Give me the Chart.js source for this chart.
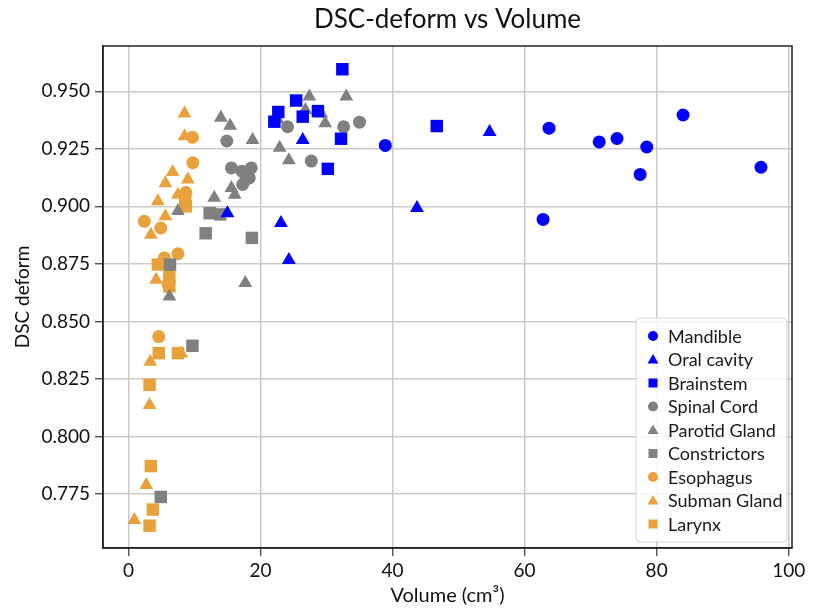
<!DOCTYPE html>
<html lang="en">
<head>
<meta charset="UTF-8">
<title>DSC-deform vs Volume</title>
<script src="https://cdn.jsdelivr.net/npm/chart.js"></script>
<style>
  body { margin: 0; background: #fff; }
</style>
</head>
<body>
<canvas id="mainChart" width="821" height="608"></canvas>
<script>
// volume (cm3) / DSC-deform per structure
const mandibleVol = [38.9, 63.7, 62.8, 71.3, 74.0, 78.5, 77.5, 84.0, 95.8];
const mandibleDsc = [0.9265, 0.934, 0.8943, 0.928, 0.9295, 0.9258, 0.9139, 0.9397, 0.917];

const oralVol = [15.0, 23.1, 24.3, 26.4, 43.7, 54.7];
const oralDsc = [0.897, 0.8928, 0.8767, 0.9288, 0.8993, 0.9323];

const brainstemVol = [32.4, 25.4, 22.7, 22.1, 26.4, 28.7, 32.2, 30.2, 46.7];
const brainstemDsc = [0.9596, 0.946, 0.941, 0.9368, 0.939, 0.9414, 0.9294, 0.9163, 0.9349];

const spinalVol = [14.9, 15.6, 17.2, 18.6, 17.8, 17.3, 18.3, 24.1, 32.6, 27.7, 35.0];
const spinalDsc = [0.9284, 0.9167, 0.9153, 0.9167, 0.9117, 0.9095, 0.9124, 0.9346, 0.9346, 0.9197, 0.9366];

const parotidVol = [14.0, 15.4, 18.8, 15.6, 16.1, 13.0, 7.5, 6.2, 17.7, 27.4, 26.8, 22.6, 29.2, 29.8, 33.0, 22.9, 24.3];
const parotidDsc = [0.9385, 0.935, 0.9288, 0.908, 0.905, 0.9037, 0.898, 0.8608, 0.8667, 0.9477, 0.9419, 0.9378, 0.9404, 0.9361, 0.9477, 0.9255, 0.920];

const constrictorVol = [12.3, 13.9, 11.7, 18.7, 6.3, 9.7, 4.9];
const constrictorDsc = [0.897, 0.8965, 0.8883, 0.8863, 0.8747, 0.8394, 0.7737];

const esophagusVol = [9.7, 9.75, 8.7, 2.4, 4.9, 7.5, 5.45, 6.0, 4.6];
const esophagusDsc = [0.930, 0.919, 0.906, 0.8935, 0.8906, 0.8794, 0.8776, 0.866, 0.8434];

const submanVol = [8.5, 8.5, 6.7, 5.6, 9.0, 7.5, 4.45, 5.6, 3.4, 4.2, 8.0, 3.3, 3.2, 2.7, 0.9];
const submanDsc = [0.9404, 0.9305, 0.9149, 0.910, 0.9117, 0.905, 0.9022, 0.8957, 0.8877, 0.8681, 0.836, 0.8325, 0.8137, 0.7789, 0.7637];

const larynxVol = [8.6, 8.7, 4.45, 6.2, 6.2, 4.6, 7.5, 3.2, 3.4, 3.7, 3.2];
const larynxDsc = [0.903, 0.900, 0.8747, 0.8696, 0.8652, 0.8362, 0.8362, 0.8224, 0.7871, 0.7682, 0.7612];

const xTicks = [0, 20, 40, 60, 80, 100];
const yTicks = [0.775, 0.800, 0.825, 0.850, 0.875, 0.900, 0.925, 0.950];

const BLUE = '#0000ff';
const GRAY = '#808080';
const ORANGE = '#e9a23b';
const FONT = 'Lato';

function pts(xs, ys) {
    return xs.map((x, i) => ({ x: x, y: ys[i] }));
}

const series = [
    { label: 'Mandible',      xs: mandibleVol,    ys: mandibleDsc,    color: BLUE,   shape: 'circle' },
    { label: 'Oral cavity',   xs: oralVol,        ys: oralDsc,        color: BLUE,   shape: 'triangle' },
    { label: 'Brainstem',     xs: brainstemVol,   ys: brainstemDsc,   color: BLUE,   shape: 'rect' },
    { label: 'Spinal Cord',   xs: spinalVol,      ys: spinalDsc,      color: GRAY,   shape: 'circle' },
    { label: 'Parotid Gland', xs: parotidVol,     ys: parotidDsc,     color: GRAY,   shape: 'triangle' },
    { label: 'Constrictors',  xs: constrictorVol, ys: constrictorDsc, color: GRAY,   shape: 'rect' },
    { label: 'Esophagus',     xs: esophagusVol,   ys: esophagusDsc,   color: ORANGE, shape: 'circle' },
    { label: 'Subman Gland',  xs: submanVol,      ys: submanDsc,      color: ORANGE, shape: 'triangle' },
    { label: 'Larynx',        xs: larynxVol,      ys: larynxDsc,      color: ORANGE, shape: 'rect' }
];

const radiusFor = { circle: 6.5, triangle: 8, rect: 8.8 };

// matplotlib-style legend box in the lower right of the plot
const legendBox = {
    id: 'legendBox',
    afterDraw(chart) {
        const ctx = chart.ctx;
        const a = chart.chartArea;
        const x0 = a.right - 156, y0 = a.bottom - 230, w = 151, h = 224;
        ctx.save();
        ctx.beginPath();
        ctx.roundRect(x0, y0, w, h, 4);
        ctx.fillStyle = 'rgba(255,255,255,0.85)';
        ctx.fill();
        ctx.strokeStyle = '#d4d4d4';
        ctx.lineWidth = 1;
        ctx.stroke();

        ctx.font = '18px ' + FONT;
        ctx.textBaseline = 'middle';
        ctx.textAlign = 'left';
        series.forEach((s, i) => {
            const cy = y0 + 18 + i * 23.5;
            const cx = x0 + 17;
            ctx.fillStyle = s.color;
            ctx.beginPath();
            if (s.shape === 'circle') {
                ctx.arc(cx, cy, 5, 0, Math.PI * 2);
            } else if (s.shape === 'triangle') {
                ctx.moveTo(cx, cy - 5.5);
                ctx.lineTo(cx + 5.5, cy + 4);
                ctx.lineTo(cx - 5.5, cy + 4);
                ctx.closePath();
            } else {
                ctx.rect(cx - 4.5, cy - 4.5, 9, 9);
            }
            ctx.fill();
            ctx.fillStyle = '#1a1a1a';
            ctx.fillText(s.label, x0 + 32, cy + 1);
        });
        ctx.restore();
    }
};

// black frame round the plot area
const frame = {
    id: 'frame',
    beforeDatasetsDraw(chart) {
        const a = chart.chartArea;
        const ctx = chart.ctx;
        ctx.save();
        ctx.strokeStyle = '#222';
        ctx.lineWidth = 1.5;
        ctx.strokeRect(a.left, a.top, a.right - a.left, a.bottom - a.top);
        ctx.restore();
    }
};

const ctx = document.getElementById('mainChart').getContext('2d');
new Chart(ctx, {
    type: 'scatter',
    data: {
        datasets: series.map(s => ({
            label: s.label,
            data: pts(s.xs, s.ys),
            backgroundColor: s.color,
            borderColor: s.color,
            pointStyle: s.shape,
            pointRadius: radiusFor[s.shape],
            pointBorderWidth: 0
        }))
    },
    options: {
        responsive: false,
        animation: false,
        layout: { padding: { left: 0, right: 29, top: 0, bottom: 0 } },
        plugins: {
            legend: { display: false },
            tooltip: { enabled: false },
            title: {
                display: true,
                text: 'DSC-deform vs Volume',
                fullSize: false,
                color: '#111',
                font: { family: FONT, size: 26, weight: 'normal', lineHeight: 1.2 },
                padding: { top: 4, bottom: 10.8 }
            }
        },
        scales: {
            x: {
                type: 'linear',
                min: -3.85,
                max: 100.5,
                afterBuildTicks: scale => { scale.ticks = xTicks.map(v => ({ value: v })); },
                afterFit: scale => { scale.height = 60; },
                ticks: {
                    color: '#111',
                    font: { family: FONT, size: 19 },
                    padding: 3,
                    maxRotation: 0
                },
                grid: { color: '#cbcbcb', lineWidth: 1.5, tickLength: 8, tickColor: '#333', tickWidth: 1.2 },
                border: { color: '#222', width: 1.5 },
                title: {
                    display: true,
                    text: 'Volume (cm³)',
                    color: '#111',
                    font: { family: FONT, size: 20 },
                    padding: { top: 0, bottom: 0 }
                }
            },
            y: {
                type: 'linear',
                min: 0.7515,
                max: 0.9697,
                afterBuildTicks: scale => { scale.ticks = yTicks.map(v => ({ value: v })); },
                afterFit: scale => { scale.width = 103; },
                ticks: {
                    color: '#111',
                    font: { family: FONT, size: 19 },
                    padding: 5,
                    callback: v => Number(v).toFixed(3)
                },
                grid: { color: '#cbcbcb', lineWidth: 1.5, tickLength: 8, tickColor: '#333', tickWidth: 1.2 },
                border: { color: '#222', width: 1.5 },
                title: {
                    display: true,
                    text: 'DSC deform',
                    color: '#111',
                    font: { family: FONT, size: 19 },
                    padding: { top: 11, bottom: 0 }
                }
            }
        }
    },
    plugins: [frame, legendBox]
});
</script>
</body>
</html>
